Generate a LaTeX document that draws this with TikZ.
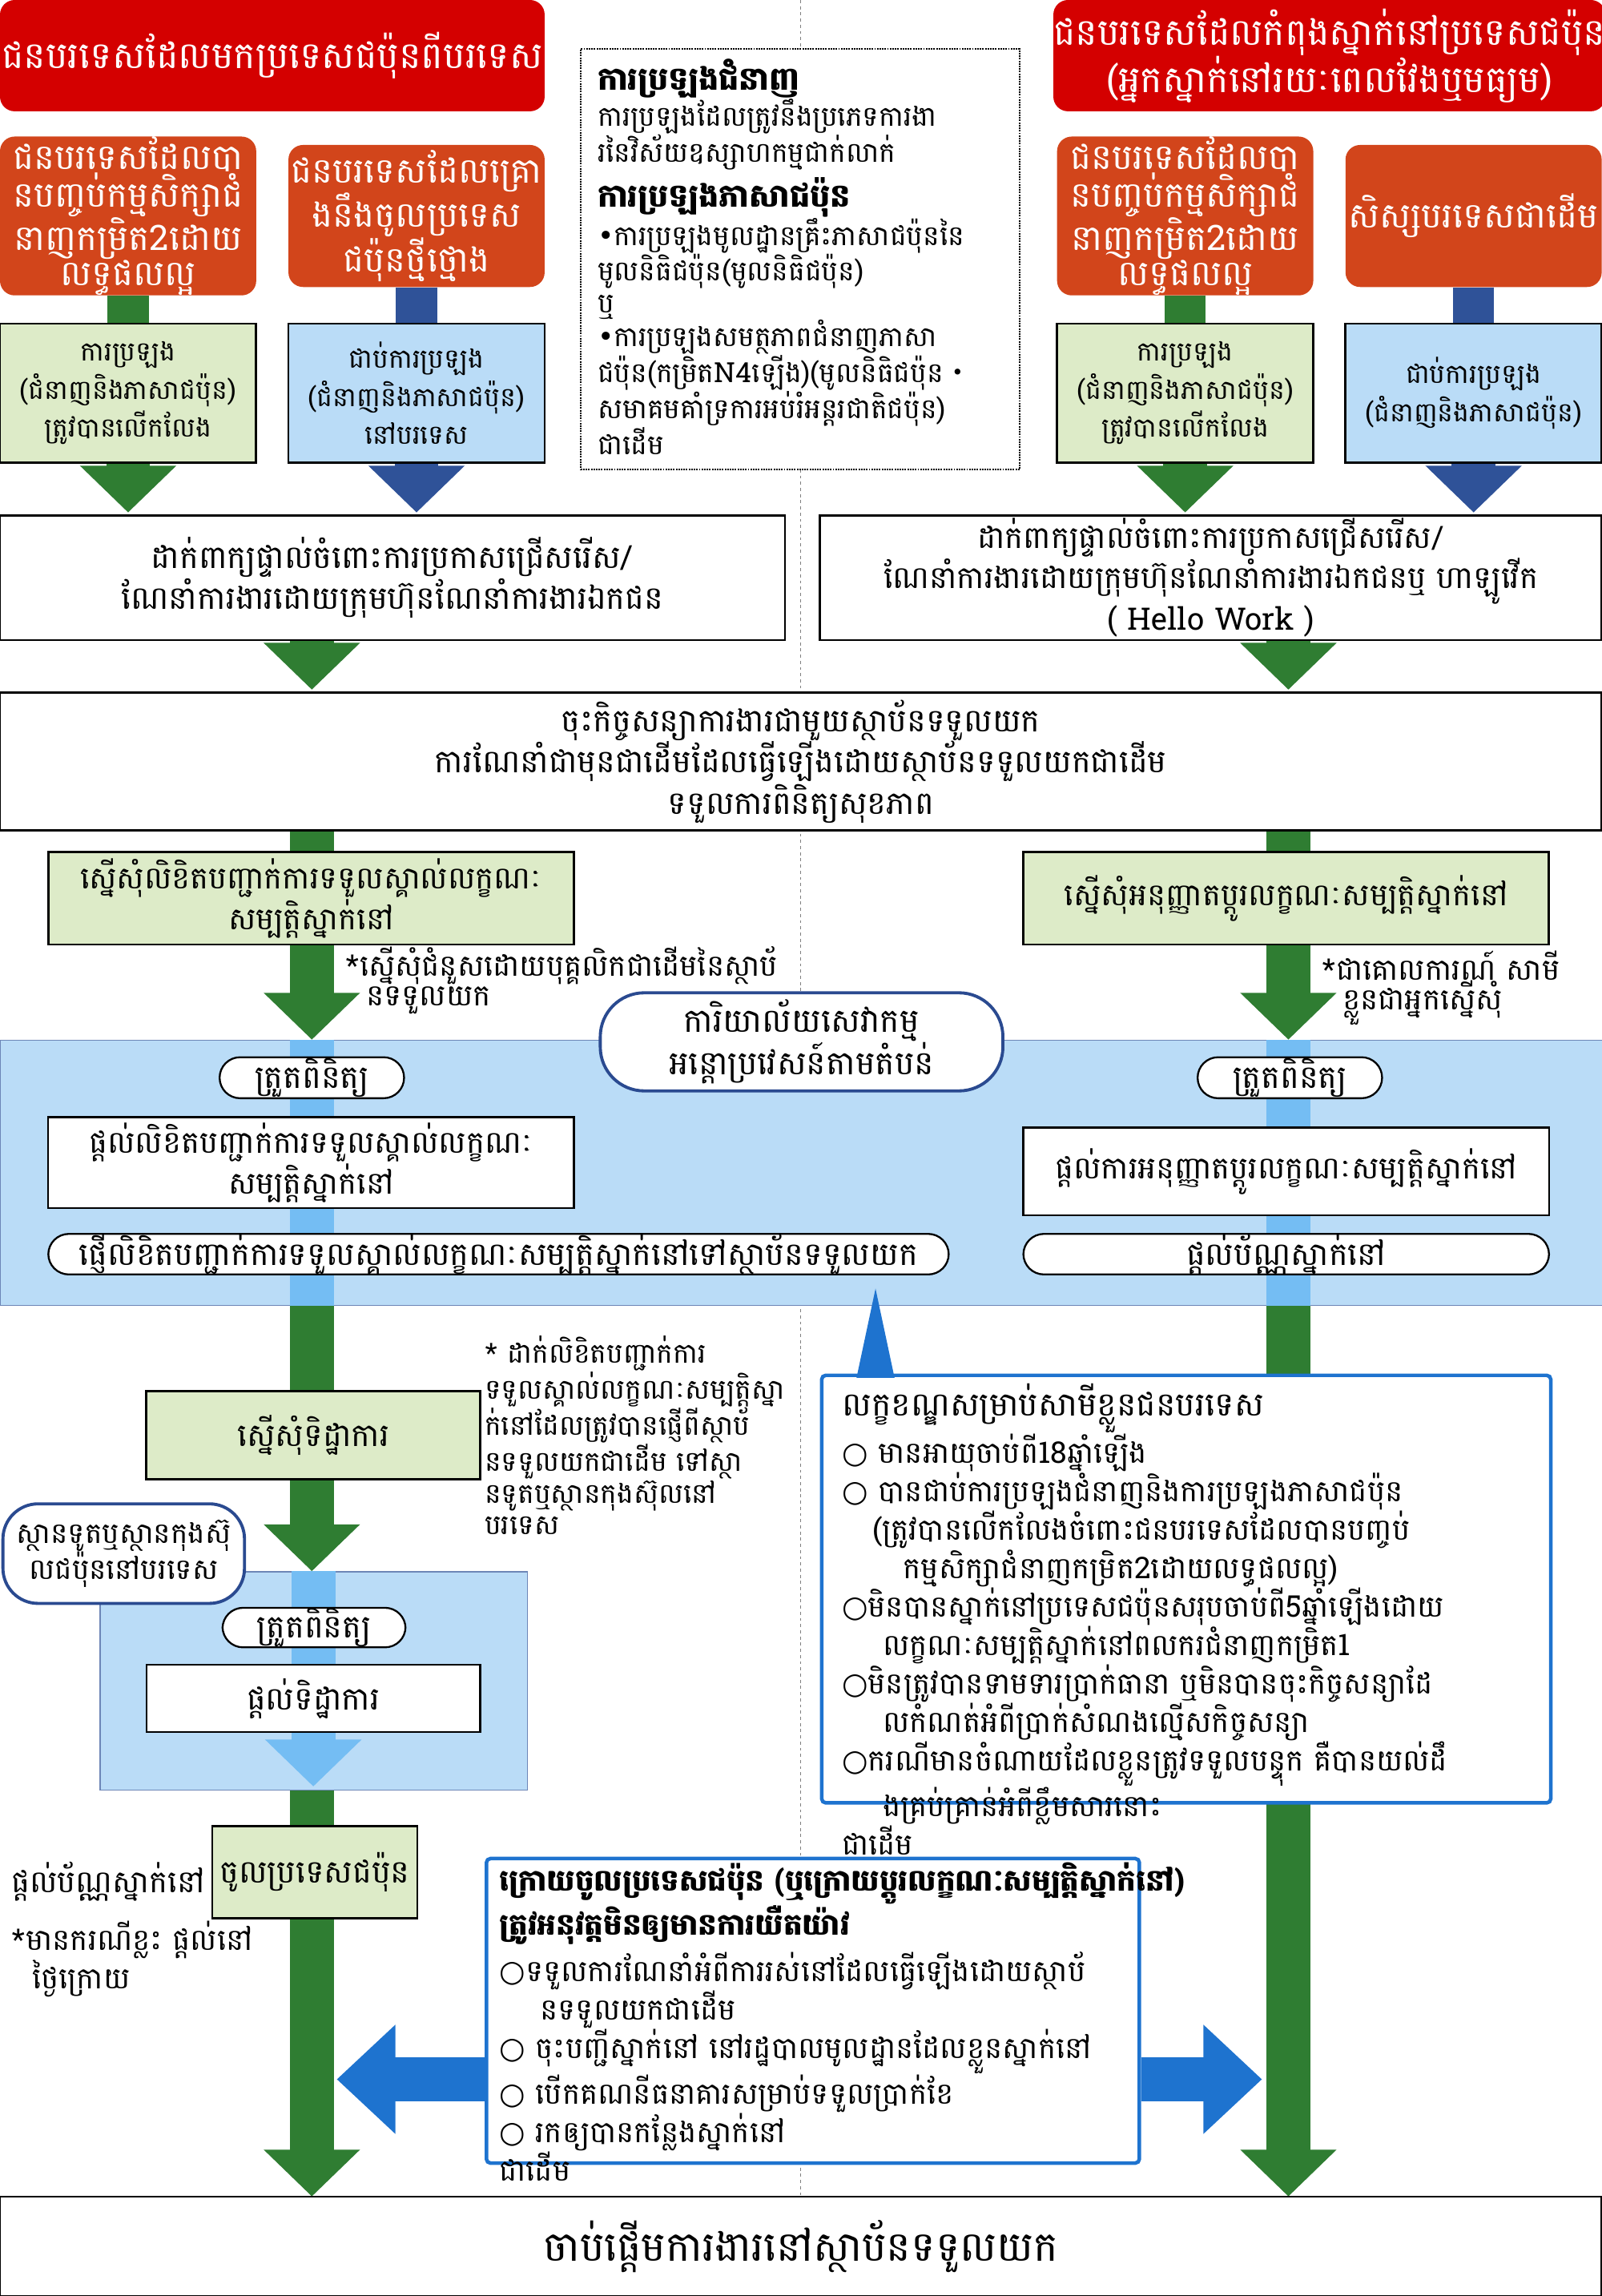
\documentclass[tikz,border=0pt]{standalone}
\usepackage{fontspec}
\newfontfamily\kh[Script=Khmer]{Battambang}
\newfontfamily\dv{DejaVu Sans}
\newfontfamily\jp{Noto Sans CJK JP}
\newcommand\ringmark{{\dv ○}}
\newcommand\bulletmark{{\dv •}}
\newcommand\midmark{{\jp ・}}
\usetikzlibrary{arrows.meta,backgrounds}
\definecolor{hdred}{HTML}{D40000}
\definecolor{hdorange}{HTML}{D2451B}
\definecolor{lgreen}{HTML}{DDEBC8}
\definecolor{lblue}{HTML}{BADCF7}
\definecolor{stemgreen}{HTML}{2F7D32}
\definecolor{stemblue}{HTML}{2F5298}
\definecolor{stemlight}{HTML}{74BDF3}
\definecolor{callblue}{HTML}{1E73CF}
\definecolor{darkblue}{HTML}{2A4A90}
\tikzset{wh/.style 2 args={minimum width=#1*0.05cm,minimum height=#2*0.05cm},
         fs/.style 2 args={font=\kh\fontsize{#1}{#2}\selectfont}}

\begin{document}
\begin{tikzpicture}[x=0.05cm,y=-0.05cm,
    every node/.style={fs={31}{40},align=center,inner sep=0pt},
    redbox/.style={fill=hdred,rounded corners=0.5cm,text=white,fs={36}{38}},
    orangebox/.style={fill=hdorange,rounded corners=0.5cm,text=white,fs={34}{31}},
    exambox/.style={draw,line width=2.2pt},
    plainbox/.style={draw,fill=white,line width=1.8pt},
    pill/.style={draw,fill=white,rounded corners=0.7cm,line width=1.8pt},
    officebox/.style={draw=darkblue,fill=white,rounded corners=1.5cm,line width=3pt},
    fat/.style={line width=1.5cm,-{Triangle[width=3.2cm,length=1.6cm]}},
    thin stem/.style={line width=1.4cm},
    note/.style={align=left,anchor=north west,fs={29}{29}}]
  \useasboundingbox (0,0) rectangle (1094,1568);
  \draw[gray,dashed,line width=1pt] (547,0) -- (547,1500);

  % starting groups
  \node[redbox,wh={372}{76}] (red1) at (186,38) {ជនបរទេសដែលមកប្រទេសជប៉ុនពីបរទេស};
  \node[redbox,wh={372}{76}] (red2) at (908,38) {ជនបរទេសដែលកំពុងស្នាក់នៅប្រទេសជប៉ុន\\(អ្នកស្នាក់នៅរយៈពេលវែងឬមធ្យម)};
  \node[orangebox,wh={175}{97}] (org1) at (87.5,147.5) {ជនបរទេសដែលបា\\នបញ្ចប់កម្មសិក្សាជំ\\នាញកម្រិត2ដោយ\\លទ្ធផលល្អ};
  \node[orangebox,wh={175}{97}] (org2) at (284.5,147.5) {ជនបរទេសដែលគ្រោ\\ងនឹងចូលប្រទេស\\ជប៉ុនថ្មីថ្មោង};
  \node[orangebox,wh={175}{97}] (org3) at (809.5,147.5) {ជនបរទេសដែលបា\\នបញ្ចប់កម្មសិក្សាជំ\\នាញកម្រិត2ដោយ\\លទ្ធផលល្អ};
  \node[orangebox,wh={175}{97}] (org4) at (1006.5,147.5) {សិស្សបរទេសជាដើម};

  \node[exambox,fill=lgreen,wh={175}{95},fs={26}{37}] (exam1) at (87.5,268.5) {ការប្រឡង\\(ជំនាញនិងភាសាជប៉ុន)\\ត្រូវបានលើកលែង};
  \node[exambox,fill=lblue,wh={175}{95},fs={26}{37}] (exam2) at (284.5,268.5) {ជាប់ការប្រឡង\\(ជំនាញនិងភាសាជប៉ុន)\\នៅបរទេស};
  \node[exambox,fill=lgreen,wh={175}{95},fs={26}{37}] (exam3) at (809.5,268.5) {ការប្រឡង\\(ជំនាញនិងភាសាជប៉ុន)\\ត្រូវបានលើកលែង};
  \node[exambox,fill=lblue,wh={175}{95},fs={26}{37}] (exam4) at (1006.5,268.5) {ជាប់ការប្រឡង\\(ជំនាញនិងភាសាជប៉ុន)};

  % tests explained
  \node[draw,densely dotted,line width=1.5pt,fill=white,wh={300}{287},anchor=north west] (tests) at (396,33) {};
  \node[anchor=north west,align=left,fs={27}{31}] (testtext) at (408,40) {%
    {\bfseries\fontsize{31}{38}\selectfont ការប្រឡងជំនាញ}\\
    ការប្រឡងដែលត្រូវនឹងប្រភេទការងា\\ រនៃវិស័យឧស្សាហកម្មជាក់លាក់\\[6pt]
    {\bfseries\fontsize{31}{38}\selectfont ការប្រឡងភាសាជប៉ុន}\\
    \bulletmark ការប្រឡងមូលដ្ឋានគ្រឹះភាសាជប៉ុននៃ\\មូលនិធិជប៉ុន(មូលនិធិជប៉ុន)\\ឬ\\
    \bulletmark ការប្រឡងសមត្ថភាពជំនាញភាសា\\ជប៉ុន(កម្រិតN4ឡើង)(មូលនិធិជប៉ុន\midmark\\សមាគមគាំទ្រការអប់រំអន្តរជាតិជប៉ុន)\\ជាដើម};

  \node[plainbox,wh={536}{85}] (apply1) at (268,394.5) {ដាក់ពាក្យផ្ទាល់ចំពោះការប្រកាសជ្រើសរើស/\\ណែនាំការងារដោយក្រុមហ៊ុនណែនាំការងារឯកជន};
  \node[plainbox,wh={534}{85},fs={30}{37}] (apply2) at (827,394.5) {ដាក់ពាក្យផ្ទាល់ចំពោះការប្រកាសជ្រើសរើស/\\ណែនាំការងារដោយក្រុមហ៊ុនណែនាំការងារឯកជនឬ ហាឡូវើក\\( Hello Work )};

  \node[plainbox,wh={1094}{94},fs={31}{40}] (contract) at (547,520) {ចុះកិច្ចសន្យាការងារជាមួយស្ថាប័នទទួលយក\\ការណែនាំជាមុនជាដើមដែលធ្វើឡើងដោយស្ថាប័នទទួលយកជាដើម\\ទទួលការពិនិត្យសុខភាព};

  \node[exambox,fill=lgreen,wh={359}{63},fs={30}{40}] (askcert) at (212.5,613.5) {ស្នើសុំលិខិតបញ្ជាក់ការទទួលស្គាល់លក្ខណៈ\\សម្បត្តិស្នាក់នៅ};
  \node[exambox,fill=lgreen,wh={359}{63},fs={30}{40}] (askchange) at (878.5,613.5) {ស្នើសុំអនុញ្ញាតប្តូរលក្ខណៈសម្បត្តិស្នាក់នៅ};
  \node[note] (note1) at (236,646) {*ស្នើសុំជំនួសដោយបុគ្គលិកជាដើមនៃស្ថាប័\\\ \ នទទួលយក};
  \node[note] (note2) at (903,649) {*ជាគោលការណ៍ សាមី\\\ \ ខ្លួនជាអ្នកស្នើសុំ};

  % immigration bureau
  \node[draw=stemblue!70,fill=lblue,line width=1pt,wh={1094}{181},anchor=north west] (bureau) at (0,710) {};
  \begin{scope}[on background layer]
    \draw[stemgreen,thin stem] (org1) -- (exam1);
    \draw[stemblue,thin stem] (org2) -- (exam2);
    \draw[stemgreen,thin stem] (org3) -- (exam3);
    \draw[stemblue,thin stem] (org4) -- (exam4);
    \draw[stemgreen,fat] (exam1.south) -- (87.5,350);
    \draw[stemblue,fat] (exam2.south) -- (284.5,350);
    \draw[stemgreen,fat] (exam3.south) -- (809.5,350);
    \draw[stemblue,fat] (exam4.south) -- (1006.5,350);
    \draw[stemgreen,fat] (213,437) -- (213,471);
    \draw[stemgreen,fat] (880,437) -- (880,471);
    \draw[stemgreen,fat] (213,567) -- (bureau.north-|213,0);
    \draw[stemgreen,fat] (880,567) -- (bureau.north-|880,0);
  \end{scope}
  \draw[stemlight,line width=1.5cm] (bureau.north-|213,0) -- (bureau.south-|213,0);
  \draw[stemlight,line width=1.5cm] (bureau.north-|880,0) -- (bureau.south-|880,0);
  \node[officebox,wh={275}{67},fs={32}{36}] (office) at (547.5,711.5) {ការិយាល័យសេវាកម្ម\\អន្តោប្រវេសន៍តាមតំបន់};
  \node[pill,wh={126}{28}] (check1) at (213,736) {ត្រួតពិនិត្យ};
  \node[pill,wh={126}{28}] (check2) at (881,736) {ត្រួតពិនិត្យ};
  \node[plainbox,wh={359}{62},fs={30}{40}] (givecert) at (212.5,794) {ផ្តល់លិខិតបញ្ជាក់ការទទួលស្គាល់លក្ខណៈ\\សម្បត្តិស្នាក់នៅ};
  \node[plainbox,wh={359}{60},fs={30}{40}] (givechange) at (878.5,800) {ផ្តល់ការអនុញ្ញាតប្តូរលក្ខណៈសម្បត្តិស្នាក់នៅ};
  \node[pill,wh={615}{27}] (sendcert) at (340.5,856.5) {ផ្ញើលិខិតបញ្ជាក់ការទទួលស្គាល់លក្ខណៈសម្បត្តិស្នាក់នៅទៅស្ថាប័នទទួលយក};
  \node[pill,wh={359}{27}] (card1) at (878.5,856.5) {ផ្តល់ប័ណ្ណស្នាក់នៅ};

  % visa at embassy
  \node[note,fs={27}{31}] (note3) at (331,912) {* ដាក់លិខិតបញ្ជាក់ការ\\ទទួលស្គាល់លក្ខណៈសម្បត្តិស្នា\\ក់នៅដែលត្រូវបានផ្ញើពីស្ថាប័\\នទទួលយកជាដើម ទៅស្ថា\\នទូតឬស្ថានកុងស៊ុលនៅ\\បរទេស};
  \node[exambox,fill=lgreen,wh={228}{60}] (askvisa) at (214,980) {ស្នើសុំទិដ្ឋាការ};
  \node[draw=stemblue!70,fill=lblue,line width=1pt,wh={292}{149},anchor=north west] (embassy) at (68,1073) {};
  \begin{scope}[on background layer]
    \draw[stemgreen,fat] (bureau.south-|213,0) -- (embassy.north-|213,0);
    \draw[stemgreen,fat] (bureau.south-|880,0) -- (880,1500);
    \draw[stemgreen,fat] (embassy.south-|213,0) -- (213,1500);
  \end{scope}
  \draw[stemlight,fat] (embassy.north-|214,0) -- (214,1220);
  \node[officebox,rounded corners=1.2cm,wh={165}{68},fs={28}{32}] (embname) at (84.5,1061) {ស្ថានទូតឬស្ថានកុងស៊ុ\\លជប៉ុននៅបរទេស};
  \node[pill,wh={125}{27}] (check3) at (214.5,1111.5) {ត្រួតពិនិត្យ};
  \node[plainbox,wh={228}{46}] (givevisa) at (214,1160) {ផ្តល់ទិដ្ឋាការ};

  % conditions callout
  \node[draw=callblue,fill=white,line width=3.5pt,rounded corners=4pt,wh={498}{292},anchor=north west] (cond) at (560,938) {};
  \fill[callblue] (585,941) -- (598,880) -- (611,941) -- cycle;
  \node[anchor=north west,align=left,fs={29}{34}] (condtext) at (575,945) {%
    {\fontsize{32}{42}\selectfont លក្ខខណ្ឌសម្រាប់សាមីខ្លួនជនបរទេស}\\
    \ringmark\ មានអាយុចាប់ពី18ឆ្នាំឡើង\\
    \ringmark\ បានជាប់ការប្រឡងជំនាញនិងការប្រឡងភាសាជប៉ុន\\
    \ \ \ (ត្រូវបានលើកលែងចំពោះជនបរទេសដែលបានបញ្ចប់\\
    \ \ \ \ \ \ កម្មសិក្សាជំនាញកម្រិត2ដោយលទ្ធផលល្អ)\\
    \ringmark មិនបានស្នាក់នៅប្រទេសជប៉ុនសរុបចាប់ពី5ឆ្នាំឡើងដោយ\\
    \ \ \ \ លក្ខណៈសម្បត្តិស្នាក់នៅពលករជំនាញកម្រិត1\\
    \ringmark មិនត្រូវបានទាមទារប្រាក់ធានា ឬមិនបានចុះកិច្ចសន្យាដែ\\
    \ \ \ \ លកំណត់អំពីប្រាក់សំណងល្មើសកិច្ចសន្យា\\
    \ringmark ករណីមានចំណាយដែលខ្លួនត្រូវទទួលបន្ទុក គឺបានយល់ដឹ\\
    \ \ \ \ ងគ្រប់គ្រាន់អំពីខ្លឹមសារនោះ\\
    ជាដើម};

  % entry
  \node[exambox,fill=lgreen,wh={140}{63}] (entry) at (215,1278.5) {ចូលប្រទេសជប៉ុន};
  \node[anchor=east,fs={30}{34}] (card2) at (140,1285) {ផ្តល់ប័ណ្ណស្នាក់នៅ};
  \node[note] (note4) at (8,1312) {*មានករណីខ្លះ ផ្តល់នៅ\\\ \ ថ្ងៃក្រោយ};
  \node[draw=callblue,fill=white,line width=3.5pt,rounded corners=4pt,wh={446}{208},anchor=north west] (after) at (331,1268) {};
  \node[anchor=north west,align=left,fs={29}{31}] (aftertext) at (341,1272) {%
    {\bfseries ក្រោយចូលប្រទេសជប៉ុន (ឬក្រោយប្តូរលក្ខណៈសម្បត្តិស្នាក់នៅ)}\\
    {\bfseries ត្រូវអនុវត្តមិនឲ្យមានការយឺតយ៉ាវ}\\[6pt]
    \ringmark ទទួលការណែនាំអំពីការរស់នៅដែលធ្វើឡើងដោយស្ថាប័\\
    \ \ \ \ នទទួលយកជាដើម\\
    \ringmark\ ចុះបញ្ជីស្នាក់នៅ នៅរដ្ឋបាលមូលដ្ឋានដែលខ្លួនស្នាក់នៅ\\
    \ringmark\ បើកគណនីធនាគារសម្រាប់ទទួលប្រាក់ខែ\\
    \ringmark\ រកឲ្យបានកន្លែងស្នាក់នៅ\\
    ជាដើម};

  \node[plainbox,wh={1094}{68},fs={40}{44}] (start) at (547,1534) {ចាប់ផ្តើមការងារនៅស្ថាប័នទទួលយក};

  % side arrows from the checklist
  \draw[callblue,line width=1.5cm,-{Triangle[width=3.6cm,length=2cm]}] (after.west|-0,1420) -- (230,1420);
  \draw[callblue,line width=1.5cm,-{Triangle[width=3.6cm,length=2cm]}] (after.east|-0,1420) -- (862,1420);
\end{tikzpicture}
\end{document}
